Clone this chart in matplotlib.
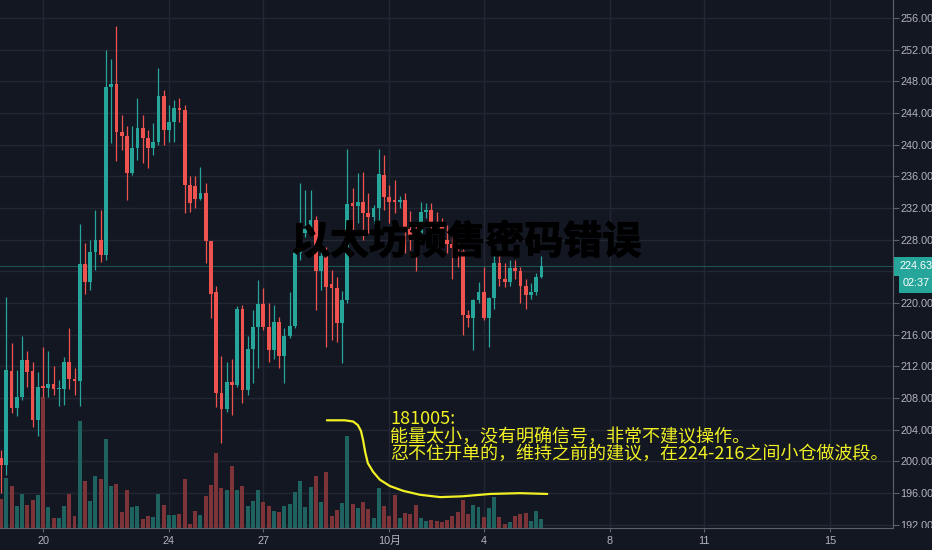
import matplotlib
matplotlib.use('Agg')
import matplotlib.pyplot as plt
import matplotlib.patheffects as pe
import numpy as np
import pandas as pd
from matplotlib.transforms import Bbox, TransformedBbox, blended_transform_factory

# ETH 4h candles, Sep 18 16:00 .. Oct 5 20:00
opens = [200.4, 199.6, 211.4, 206.7, 208.2, 212.8, 211.4, 205.3, 209.5, 209.3,
         209.8, 209.1, 209.2, 212.6, 210.4, 210.2, 224.9, 222.7, 226.5, 228.0,
         226.1, 247.3, 247.7, 241.65, 241.1, 236.4, 239.55, 242.1, 240.9, 239.55,
         240.4, 246.15, 241.9, 242.9, 244.6, 244.4, 234.9, 234.8, 233.2, 233.9,
         227.9, 221.45, 208.7, 206.6, 210.0, 209.7, 219.2, 209.0, 214.2, 217.0,
         219.9, 217.0, 214.1, 217.65, 213.3, 215.85, 217.1, 226.3, 228.9, 229.2,
         230.5, 224.0, 226.1, 222.4, 221.9, 217.5, 220.4, 232.6, 232.2, 232.8,
         231.4, 230.9, 232.0, 236.2, 233.4, 233.0, 232.8, 233.0, 229.4, 229.2,
         228.3, 231.5, 231.8, 230.3, 230.0, 228.0, 227.5, 226.9, 226.6, 218.5,
         218.1, 220.4, 221.45, 218.1, 220.6, 225.0, 223.1, 222.7, 224.4, 224.0,
         222.1, 221.0, 221.45, 223.35]
highs = [201.5, 220.8, 215.0, 211.6, 215.85, 213.9, 212.6, 211.35, 214.5, 213.9,
         212.0, 210.3, 213.2, 216.8, 211.8, 230.0, 227.6, 228.0, 231.7, 231.8,
         252.0, 250.8, 255.0, 243.75, 242.3, 242.4, 245.9, 243.75, 241.9, 242.7,
         249.65, 246.9, 245.0, 245.65, 245.9, 245.0, 236.0, 236.0, 237.2, 235.1,
         227.9, 222.1, 213.3, 212.6, 213.0, 219.6, 219.8, 215.85, 219.1, 222.9,
         221.9, 220.0, 219.8, 218.3, 216.8, 221.45, 226.7, 235.1, 234.3, 234.3,
         231.0, 227.0, 227.1, 224.2, 223.3, 221.5, 239.4, 234.5, 236.4, 236.6,
         233.9, 232.4, 239.5, 238.7, 234.9, 235.5, 233.5, 233.9, 231.6, 230.0,
         232.8, 232.6, 232.7, 231.5, 230.8, 229.9, 228.3, 227.9, 226.8, 219.1,
         220.5, 222.7, 224.6, 220.8, 226.3, 226.3, 225.0, 225.4, 225.4, 224.6,
         223.0, 222.5, 223.75, 225.9]
lows = [196.0, 198.3, 206.1, 205.7, 207.8, 209.4, 204.4, 203.2, 208.2, 208.2,
        208.4, 207.0, 207.1, 209.2, 208.4, 207.0, 221.2, 221.7, 224.2, 225.2,
        225.5, 240.2, 237.9, 239.3, 233.0, 236.2, 238.1, 237.65, 237.0, 238.7,
        240.0, 240.0, 240.4, 240.4, 242.9, 231.4, 231.55, 232.0, 233.0, 225.0,
        218.1, 206.9, 202.3, 206.3, 205.9, 209.45, 207.35, 208.4, 209.9, 211.8,
        216.6, 212.6, 213.0, 211.75, 209.9, 215.6, 216.8, 225.5, 228.4, 228.8,
        219.1, 221.7, 214.5, 215.3, 215.1, 212.4, 220.0, 228.8, 230.1, 228.0,
        228.8, 230.0, 230.5, 231.8, 230.1, 231.4, 232.0, 226.3, 226.7, 224.0,
        227.8, 230.8, 229.5, 229.0, 227.2, 226.3, 223.1, 224.5, 216.0, 217.0,
        214.1, 220.0, 217.9, 214.5, 219.3, 222.1, 222.0, 222.1, 223.0, 220.0,
        219.3, 220.5, 221.0, 223.2]
closes = [199.6, 211.5, 206.7, 208.2, 212.8, 211.35, 205.3, 209.45, 209.3, 209.8,
          209.1, 209.2, 212.6, 210.4, 210.2, 224.9, 222.7, 226.5, 228.0, 226.1,
          247.3, 247.7, 241.65, 241.1, 236.4, 239.55, 242.1, 240.9, 239.55, 240.4,
          246.15, 241.9, 242.9, 244.6, 244.4, 234.9, 232.6, 233.1, 233.9, 227.8,
          221.2, 208.6, 206.6, 210.0, 209.7, 219.2, 209.0, 214.2, 217.0, 219.9,
          217.0, 214.1, 217.65, 213.3, 215.85, 217.1, 226.3, 229.2, 229.3, 230.5,
          224.0, 225.9, 222.0, 221.9, 217.5, 220.4, 232.5, 232.2, 232.8, 231.4,
          230.9, 232.0, 236.3, 233.4, 232.8, 232.8, 233.0, 229.4, 228.0, 228.2,
          231.5, 231.8, 230.3, 230.0, 228.0, 227.5, 226.9, 226.6, 218.5, 218.1,
          220.4, 221.45, 218.1, 220.6, 225.0, 223.1, 222.7, 224.4, 224.0, 222.1,
          221.0, 221.45, 223.35, 224.63]
volumes = [29, 50, 42, 22, 34, 23, 28, 33, 131, 21, 10, 10, 22, 34, 12, 107, 47, 27, 52, 49,
           89, 42, 44, 16, 38, 21, 22, 9, 12, 11, 34, 23, 13, 13, 14, 49, 4, 17, 13, 32,
           43, 75, 40, 38, 62, 38, 42, 22, 27, 38, 26, 22, 17, 16, 22, 24, 36, 47, 21, 41,
           52, 26, 56, 12, 18, 25, 92, 24, 20, 26, 19, 10, 40, 22, 12, 33, 10, 15, 14, 23,
           10, 7, 8, 7, 6, 8, 12, 16, 28, 14, 23, 21, 11, 20, 31, 11, 4, 6, 12, 14,
           15, 7, 17, 9]

start_time = pd.Timestamp('2018-09-18 16:00')
tick_dates = pd.to_datetime(['2018-09-20', '2018-09-24', '2018-09-27', '2018-10-01',
                             '2018-10-04', '2018-10-08', '2018-10-11', '2018-10-15'])
tick_labels = ['20', '24', '27', '10月', '4', '8', '11', '15']
price_ticks = list(range(192, 257, 4))
last_price = 224.63
countdown = '02:37'
title = '以太坊预售密码错误'
note_lines = ['181005:',
              '能量太小，没有明确信号，非常不建议操作。',
              '忍不住开单的，维持之前的建议，在224-216之间小仓做波段。']
# hand-drawn yellow stroke (candle index, price)
note_curve_x = [62.1, 65.5, 67.1, 68.0, 68.6, 69.0, 69.4, 69.9, 70.9, 72.2, 74.1,
                76.6, 79.8, 83.7, 87.9, 93.2, 98.9, 104.1]
note_curve_y = [205.2, 205.2, 205.05, 204.6, 203.85, 202.7, 201.2, 199.8, 198.7, 197.7,
                196.9, 196.3, 195.8, 195.5, 195.6, 195.9, 196.0, 195.9]

BG = '#131722'
GRID = '#232733'
UP = '#26a69a'
DOWN = '#ef5350'
TXT = '#b2b5be'
SPINE = '#5d606b'
NOTE = '#f0f024'

plt.rcParams['font.family'] = ['Liberation Sans', 'Noto Sans CJK SC', 'DejaVu Sans']

o = np.array(opens)
h = np.array(highs)
l = np.array(lows)
c = np.array(closes)
v = np.array(volumes, dtype=float)
x = np.arange(len(c))
up = c >= o
colors = np.where(up, UP, DOWN)

fig = plt.figure(figsize=(9.32, 5.5), dpi=100, facecolor=BG)
ax = fig.add_axes([0, 22 / 550, 893 / 932, 528 / 550])
ax.set_facecolor(BG)

ax.set_xlim(-0.2, 170.0)
ax.set_ylim(191.6, 258.27)

# grid
tick_pos = [(d - start_time) / pd.Timedelta(hours=4) for d in tick_dates]
for tp in tick_pos:
    ax.axvline(tp, color=GRID, lw=1, zorder=0)
for pt in price_ticks:
    ax.axhline(pt, color=GRID, lw=1, zorder=0)

# volume overlay at bottom
vol_trans = blended_transform_factory(ax.transData, ax.transAxes)
vol_frac = v / v.max() * 0.248
vol_colors = np.where(up, '#1f6360', '#7d3438')
ax.bar(x, vol_frac, width=0.76, bottom=0, color=vol_colors, transform=vol_trans, zorder=1)

# candles
ax.vlines(x, l, h, colors=colors, lw=0.9, zorder=2)
body_low = np.minimum(o, c)
body_h = np.maximum(np.abs(c - o), 0.13)
ax.bar(x, body_h, width=0.72, bottom=body_low, color=colors, zorder=3)

# last price line and labels
ax.axhline(last_price, color=UP, lw=0.7, alpha=0.45, zorder=1)
trans = blended_transform_factory(ax.transAxes, ax.transData)
ax.annotate(f'{last_price:.2f}', xy=(1.0, last_price), xycoords=trans,
            xytext=(6, 0), textcoords='offset pixels', ha='left', va='center',
            color='white', fontsize=7.8, annotation_clip=False, zorder=10,
            bbox=dict(boxstyle='square,pad=0.45', fc=UP, ec='none'))
ax.annotate(countdown, xy=(1.0, last_price), xycoords=trans,
            xytext=(10, -17), textcoords='offset pixels', ha='left', va='center',
            color='white', fontsize=7.8, annotation_clip=False, zorder=10,
            bbox=dict(boxstyle='square,pad=0.4', fc=UP, ec='none'))

# axes styling
for side in ['top', 'left']:
    ax.spines[side].set_visible(False)
ax.spines['right'].set_color(SPINE)
ax.spines['bottom'].set_color(SPINE)
ax.yaxis.tick_right()
ax.set_yticks(price_ticks)
# the 224.00 label sits under the last-price box
ax.set_yticklabels(['' if p == 224 else f'{p:.2f}' for p in price_ticks])
ax.set_xticks(tick_pos)
ax.set_xticklabels(tick_labels)
ax.tick_params(axis='y', color=SPINE, labelcolor=TXT, labelsize=7.8, length=4, width=0.8, pad=1.5)
ax.tick_params(axis='x', color=SPINE, labelcolor=TXT, labelsize=7.8, length=3, width=0.8, pad=3)

clip = TransformedBbox(Bbox.from_extents(0, 22 / 550, 1, 1), fig.transFigure)
for lab in ax.get_yticklabels():
    lab.set_clip_on(True)
    lab.set_clip_box(clip)

# title watermark
ax.text(0.522, 0.541, title, transform=ax.transAxes, ha='center', va='center',
        fontsize=28, fontweight='bold', color='black',
        family=['Noto Sans CJK SC', 'DejaVu Sans'], zorder=20,
        path_effects=[pe.withStroke(linewidth=0.9, foreground='black')])

# note
note_y = [1 - 424 / 528, 1 - 441.5 / 528, 1 - 459 / 528]
for line, ny in zip(note_lines, note_y):
    ax.text(390 / 893, ny, line, transform=ax.transAxes, ha='left', va='baseline',
            fontsize=13, color=NOTE, family=['Noto Sans CJK SC', 'DejaVu Sans'], zorder=21)
ax.plot(note_curve_x, note_curve_y, color=NOTE, lw=1.6, solid_capstyle='round',
        solid_joinstyle='round', zorder=21)

fig.savefig('out.png', dpi=100, facecolor=BG)
